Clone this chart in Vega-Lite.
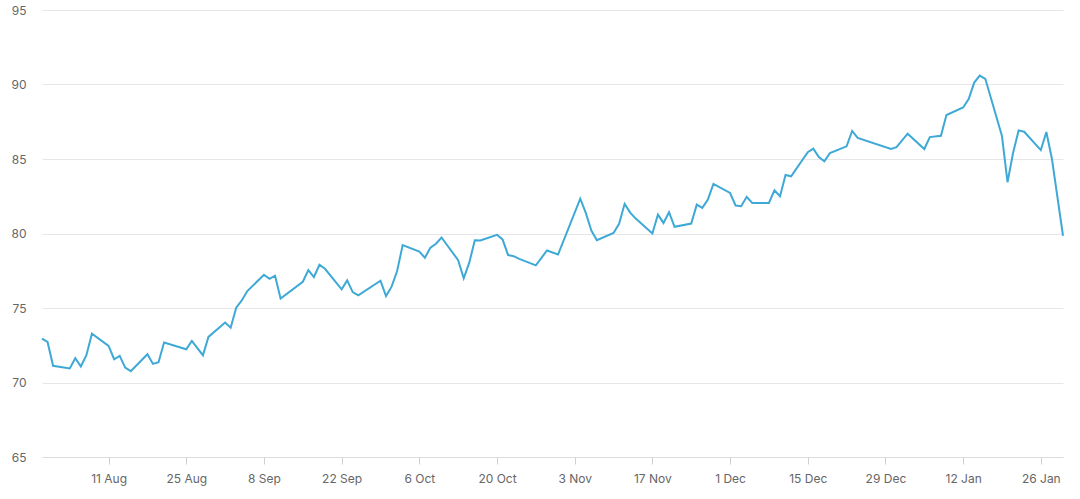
{
  "$schema": "https://vega.github.io/schema/vega-lite/v6.json",
  "width": 1021,
  "height": 447,
  "autosize": {"type": "none"},
  "padding": {"left": 42, "top": 10, "right": 17, "bottom": 42},
  "background": "white",
  "config": {
    "view": {"stroke": null},
    "font": "Inter"
  },
  "data": {
    "values": [
      {"date": "2025-07-30", "value": 72.95},
      {"date": "2025-07-31", "value": 72.72},
      {"date": "2025-08-01", "value": 71.12},
      {"date": "2025-08-04", "value": 70.94},
      {"date": "2025-08-05", "value": 71.63},
      {"date": "2025-08-06", "value": 71.07},
      {"date": "2025-08-07", "value": 71.83},
      {"date": "2025-08-08", "value": 73.28},
      {"date": "2025-08-11", "value": 72.46},
      {"date": "2025-08-12", "value": 71.56},
      {"date": "2025-08-13", "value": 71.79},
      {"date": "2025-08-14", "value": 71.0},
      {"date": "2025-08-15", "value": 70.76},
      {"date": "2025-08-18", "value": 71.9},
      {"date": "2025-08-19", "value": 71.25},
      {"date": "2025-08-20", "value": 71.36},
      {"date": "2025-08-21", "value": 72.68},
      {"date": "2025-08-25", "value": 72.23},
      {"date": "2025-08-26", "value": 72.79},
      {"date": "2025-08-28", "value": 71.83},
      {"date": "2025-08-29", "value": 73.06},
      {"date": "2025-09-01", "value": 74.02},
      {"date": "2025-09-02", "value": 73.68},
      {"date": "2025-09-03", "value": 75.02},
      {"date": "2025-09-04", "value": 75.51},
      {"date": "2025-09-05", "value": 76.14},
      {"date": "2025-09-08", "value": 77.23},
      {"date": "2025-09-09", "value": 76.96},
      {"date": "2025-09-10", "value": 77.17},
      {"date": "2025-09-11", "value": 75.63},
      {"date": "2025-09-15", "value": 76.76},
      {"date": "2025-09-16", "value": 77.54},
      {"date": "2025-09-17", "value": 77.08},
      {"date": "2025-09-18", "value": 77.9},
      {"date": "2025-09-19", "value": 77.63},
      {"date": "2025-09-22", "value": 76.25},
      {"date": "2025-09-23", "value": 76.85},
      {"date": "2025-09-24", "value": 76.07},
      {"date": "2025-09-25", "value": 75.85},
      {"date": "2025-09-29", "value": 76.83},
      {"date": "2025-09-30", "value": 75.8},
      {"date": "2025-10-01", "value": 76.43},
      {"date": "2025-10-02", "value": 77.48},
      {"date": "2025-10-03", "value": 79.22},
      {"date": "2025-10-06", "value": 78.79},
      {"date": "2025-10-07", "value": 78.37},
      {"date": "2025-10-08", "value": 79.04},
      {"date": "2025-10-09", "value": 79.31},
      {"date": "2025-10-10", "value": 79.73},
      {"date": "2025-10-13", "value": 78.21},
      {"date": "2025-10-14", "value": 76.99},
      {"date": "2025-10-15", "value": 78.04},
      {"date": "2025-10-16", "value": 79.55},
      {"date": "2025-10-17", "value": 79.53},
      {"date": "2025-10-20", "value": 79.91},
      {"date": "2025-10-21", "value": 79.6},
      {"date": "2025-10-22", "value": 78.55},
      {"date": "2025-10-23", "value": 78.48},
      {"date": "2025-10-24", "value": 78.3},
      {"date": "2025-10-27", "value": 77.86},
      {"date": "2025-10-29", "value": 78.86},
      {"date": "2025-10-31", "value": 78.59},
      {"date": "2025-11-04", "value": 82.34},
      {"date": "2025-11-05", "value": 81.38},
      {"date": "2025-11-06", "value": 80.2},
      {"date": "2025-11-07", "value": 79.55},
      {"date": "2025-11-10", "value": 80.04},
      {"date": "2025-11-11", "value": 80.65},
      {"date": "2025-11-12", "value": 81.99},
      {"date": "2025-11-13", "value": 81.4},
      {"date": "2025-11-14", "value": 81.0},
      {"date": "2025-11-17", "value": 80.0},
      {"date": "2025-11-18", "value": 81.27},
      {"date": "2025-11-19", "value": 80.71},
      {"date": "2025-11-20", "value": 81.43},
      {"date": "2025-11-21", "value": 80.45},
      {"date": "2025-11-24", "value": 80.67},
      {"date": "2025-11-25", "value": 81.94},
      {"date": "2025-11-26", "value": 81.72},
      {"date": "2025-11-27", "value": 82.28},
      {"date": "2025-11-28", "value": 83.33},
      {"date": "2025-12-01", "value": 82.72},
      {"date": "2025-12-02", "value": 81.88},
      {"date": "2025-12-03", "value": 81.83},
      {"date": "2025-12-04", "value": 82.46},
      {"date": "2025-12-05", "value": 82.05},
      {"date": "2025-12-08", "value": 82.05},
      {"date": "2025-12-09", "value": 82.9},
      {"date": "2025-12-10", "value": 82.5},
      {"date": "2025-12-11", "value": 83.93},
      {"date": "2025-12-12", "value": 83.84},
      {"date": "2025-12-15", "value": 85.46},
      {"date": "2025-12-16", "value": 85.69},
      {"date": "2025-12-17", "value": 85.13},
      {"date": "2025-12-18", "value": 84.84},
      {"date": "2025-12-19", "value": 85.4},
      {"date": "2025-12-22", "value": 85.85},
      {"date": "2025-12-23", "value": 86.88},
      {"date": "2025-12-24", "value": 86.41},
      {"date": "2025-12-30", "value": 85.67},
      {"date": "2025-12-31", "value": 85.8},
      {"date": "2026-01-02", "value": 86.7},
      {"date": "2026-01-05", "value": 85.67},
      {"date": "2026-01-06", "value": 86.47},
      {"date": "2026-01-08", "value": 86.56},
      {"date": "2026-01-09", "value": 87.95},
      {"date": "2026-01-12", "value": 88.46},
      {"date": "2026-01-13", "value": 89.02},
      {"date": "2026-01-14", "value": 90.13},
      {"date": "2026-01-15", "value": 90.6},
      {"date": "2026-01-16", "value": 90.38},
      {"date": "2026-01-19", "value": 86.54},
      {"date": "2026-01-20", "value": 83.44},
      {"date": "2026-01-21", "value": 85.4},
      {"date": "2026-01-22", "value": 86.92},
      {"date": "2026-01-23", "value": 86.83},
      {"date": "2026-01-26", "value": 85.6},
      {"date": "2026-01-27", "value": 86.81},
      {"date": "2026-01-28", "value": 85.02},
      {"date": "2026-01-30", "value": 79.85}
    ]
  },
  "mark": {"type": "line", "color": "#3ea9d6", "strokeWidth": 2, "strokeJoin": "miter", "interpolate": "linear"},
  "encoding": {
    "x": {
      "field": "date",
      "type": "temporal",
      "scale": {"type": "utc", "nice": false},
      "axis": {
        "title": null,
        "grid": false,
        "labelExpr": "utcFormat(datum.value, '%-d %b')",
        "values": [
          {"year": 2025, "month": 8, "date": 11, "utc": true},
          {"year": 2025, "month": 8, "date": 25, "utc": true},
          {"year": 2025, "month": 9, "date": 8, "utc": true},
          {"year": 2025, "month": 9, "date": 22, "utc": true},
          {"year": 2025, "month": 10, "date": 6, "utc": true},
          {"year": 2025, "month": 10, "date": 20, "utc": true},
          {"year": 2025, "month": 11, "date": 3, "utc": true},
          {"year": 2025, "month": 11, "date": 17, "utc": true},
          {"year": 2025, "month": 12, "date": 1, "utc": true},
          {"year": 2025, "month": 12, "date": 15, "utc": true},
          {"year": 2025, "month": 12, "date": 29, "utc": true},
          {"year": 2026, "month": 1, "date": 12, "utc": true},
          {"year": 2026, "month": 1, "date": 26, "utc": true}
        ],
        "domainColor": "#dcdcdc",
        "domainWidth": 1,
        "tickColor": "#d0d0d0",
        "tickSize": 7,
        "labelColor": "#666666",
        "labelFontSize": 12,
        "labelPadding": 9,
        "labelFlush": false,
        "labelOverlap": false
      }
    },
    "y": {
      "field": "value",
      "type": "quantitative",
      "scale": {"domain": [65, 95], "nice": false, "zero": false},
      "axis": {
        "title": null,
        "values": [65, 70, 75, 80, 85, 90, 95],
        "domain": false,
        "ticks": false,
        "tickSize": 0,
        "gridColor": "#e6e6e6",
        "gridWidth": 1,
        "labelColor": "#666666",
        "labelFontSize": 12,
        "labelPadding": 16
      }
    }
  }
}
